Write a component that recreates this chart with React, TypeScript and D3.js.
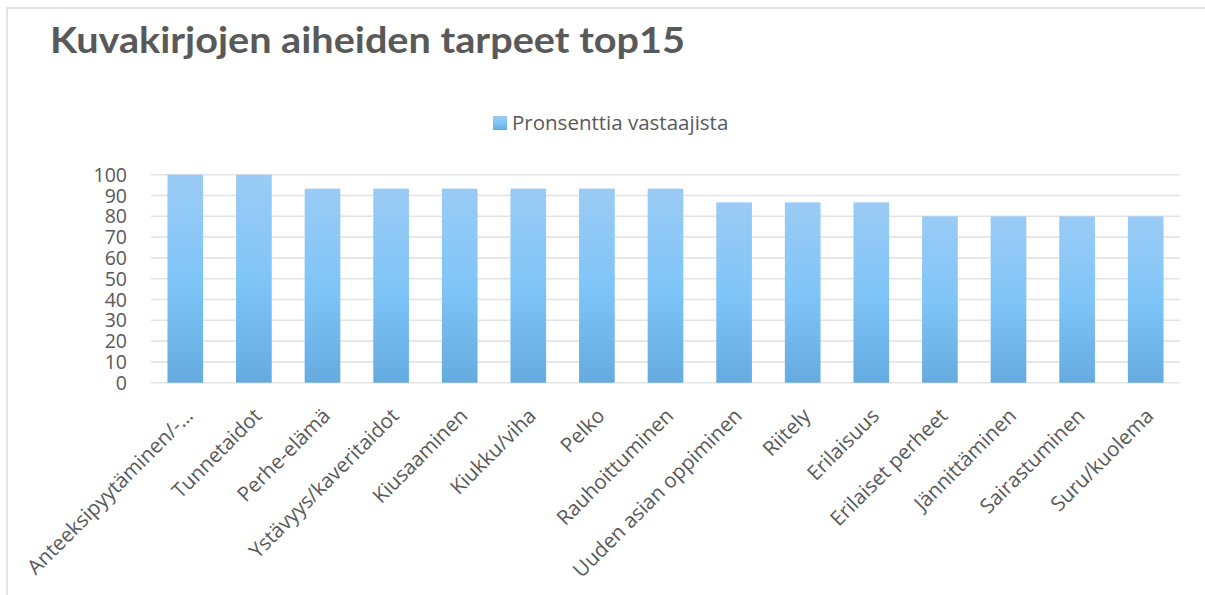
import React from "react";
import * as d3 from "d3";

const categories = [
  "Anteeksipyytäminen/-…",
  "Tunnetaidot",
  "Perhe-elämä",
  "Ystävyys/kaveritaidot",
  "Kiusaaminen",
  "Kiukku/viha",
  "Pelko",
  "Rauhoittuminen",
  "Uuden asian oppiminen",
  "Riitely",
  "Erilaisuus",
  "Erilaiset perheet",
  "Jännittäminen",
  "Sairastuminen",
  "Suru/kuolema",
];
const values = [100, 100, 93.3, 93.3, 93.3, 93.3, 93.3, 93.3, 86.7, 86.7, 86.7, 80, 80, 80, 80];
const yTicks = [0, 10, 20, 30, 40, 50, 60, 70, 80, 90, 100];
const title = "Kuvakirjojen aiheiden tarpeet top15";
const seriesName = "Pronsenttia vastaajista";

const W = 1205;
const H = 595;
const plot = { left: 151, right: 1180, top: 174.7, bottom: 382.7 };
const titleFont = "Lato, 'Open Sans', sans-serif";
const font = "'Open Sans', sans-serif";
const textColor = "#595959";

export default function App() {
  const x = d3
    .scaleBand<string>()
    .domain(categories)
    .range([plot.left, plot.right])
    .paddingInner(0.48)
    .paddingOuter(0.24);
  const y = d3.scaleLinear().domain([0, 100]).range([plot.bottom, plot.top]);

  return (
    <svg
      width={W}
      height={H}
      style={{ position: "absolute", left: 0, top: 0, background: "#fff" }}
      fontFamily={font}
    >
      <defs>
        <linearGradient id="barGrad" x1="0" y1="0" x2="0" y2="1">
          <stop offset="0" stopColor="#9ACBF5" />
          <stop offset="0.5" stopColor="#80C5F8" />
          <stop offset="1" stopColor="#66ABE0" />
        </linearGradient>
      </defs>
      <rect x={0} y={0} width={W} height={H} fill="#fff" />
      <rect x={7} y={8} width={W + 20} height={H + 20} fill="none" stroke="#DADADA" strokeWidth={1.5} />

      <text x={50} y={53} fontFamily={titleFont} fontSize={36} fontWeight="bold" fill={textColor} textLength={635} lengthAdjust="spacingAndGlyphs">
        {title}
      </text>

      {/* legend */}
      <rect x={493} y={116} width={14} height={14} fill="url(#barGrad)" />
      <text x={512} y={130} fontSize={20.5} fill={textColor}>
        {seriesName}
      </text>

      {/* gridlines */}
      {yTicks.map((t) => (
        <line
          key={"g" + t}
          x1={plot.left}
          x2={plot.right}
          y1={y(t)}
          y2={y(t)}
          stroke="#E3E3E3"
          strokeWidth={1.6}
        />
      ))}
      {yTicks.map((t) => (
        <text
          key={"t" + t}
          x={127}
          y={y(t)}
          dy="0.36em"
          textAnchor="end"
          fontSize={19.5}
          fill={textColor}
        >
          {t}
        </text>
      ))}

      {/* bars */}
      {categories.map((c, i) => (
        <rect
          key={"b" + c}
          x={x(c)}
          y={y(values[i])}
          width={x.bandwidth()}
          height={y(0) - y(values[i])}
          fill="url(#barGrad)"
        />
      ))}

      {/* x labels */}
      {categories.map((c) => {
        const cx = (x(c) as number) + x.bandwidth() / 2;
        return (
          <text
            key={"l" + c}
            transform={`translate(${cx + 4},${412}) rotate(-45)`}
            textAnchor="end"
            dy="0.35em"
            fontSize={20.5}
            fill={textColor}
          >
            {c}
          </text>
        );
      })}
    </svg>
  );
}
